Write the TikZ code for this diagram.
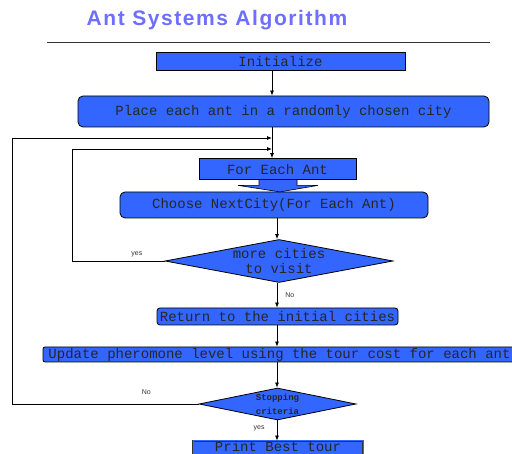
\documentclass[tikz,border=0pt]{standalone}
\usepackage{fontspec}
\setmainfont{Liberation Sans}
\setmonofont{Liberation Mono}
\usetikzlibrary{positioning, shapes.geometric, arrows.meta, calc}
\definecolor{flowblue}{RGB}{51,102,255}
\definecolor{titleblue}{RGB}{110,110,255}

\tikzset{
  stepbox/.style={draw=black, fill=flowblue, line width=0.8pt, inner sep=0pt,
    font=\ttfamily\fontsize{14}{15}\selectfont, text=black!85},
  roundbox/.style={stepbox, rounded corners=5pt},
  decision/.style={diamond, draw=black, fill=flowblue, line width=0.8pt, inner sep=0pt},
  flow/.style={-{Latex[length=5pt,width=4pt]}, line width=0.8pt},
  lbl/.style={font=\fontsize{7}{8}\selectfont, text=black!80, inner sep=1pt},
}

\begin{document}
\begin{tikzpicture}[x=1pt, y=-1pt]
    \useasboundingbox (0,0) rectangle (512,454);
    % title and rule
    \node[font=\addfontfeature{LetterSpace=7.5}\bfseries\fontsize{21}{23}\selectfont, text=titleblue] (title) at (217,20.5) {Ant Systems Algorithm};
    \draw[line width=0.6pt, black!80] (47,42) -- (490,42);

    % the steps, top to bottom
    \node[stepbox, minimum width=249pt, minimum height=18pt] (init) at (280.5,61) {Initialize};
    \node[roundbox, minimum width=411pt, minimum height=31pt] (place) at (283.5,111.5) {Place each ant in a randomly chosen city};
    \node[stepbox, minimum width=157pt, minimum height=21pt] (fea) at (277.5,169) {For Each Ant};
    \node[roundbox, minimum width=308pt, minimum height=26pt] (choose) at (274,205) {Choose NextCity(For Each Ant)};
    \node[decision, minimum width=228pt, minimum height=43pt,
      label={[align=center, font=\ttfamily\fontsize{14}{15}\selectfont, text=black!85]center:more cities\\to visit}] (more) at (279,261) {};
    \node[roundbox, rounded corners=3pt, minimum width=241pt, minimum height=17pt] (ret) at (277.5,316.5) {Return to the initial cities};
    \node[roundbox, rounded corners=2pt, minimum width=473pt, minimum height=15pt] (upd) at (279.5,354.5) {Update pheromone level using the tour cost for each ant};
    \node[decision, minimum width=157pt, minimum height=32pt,
      label={[align=center, font=\ttfamily\bfseries\fontsize{9}{14}\selectfont, text=black!85]center:Stopping\\criteria}] (stop) at (277.5,404) {};
    \node[stepbox, double=flowblue, double distance=1pt, draw=black!80, minimum width=170pt,
      text height=11pt, text depth=11pt] (print) at (278,452) {Print Best tour};

    % spines and joins
    \coordinate (topx) at (272,0);
    \coordinate (midx) at (277,0);
    \coordinate (innerx) at (72,0);
    \coordinate (outerx) at (12,0);
    \coordinate (join1) at (272,149);
    \coordinate (join2) at (272,138);

    % block arrow under For Each Ant
    \draw[fill=flowblue, line width=0.6pt] ($(fea.south)+(-18.5,0)$) -- ++(0,5.5) -- ++(-21,0)
      -- ($(fea.south)+(2.5,12)$) -- ($(fea.south)+(40.5,5.5)$) -- ++(-21,0) -- ++(0,-5.5);

    % connectors
    \draw[flow] (init.south -| topx) -- (place.north -| topx);
    \draw[flow] (place.south -| topx) -- (fea.north -| topx);
    \draw[flow] (choose.south -| midx) -- (more.north -| midx);
    \draw[flow] (more.south -| midx) -- node[lbl, right=7pt, pos=0.5] {No} (ret.north -| midx);
    \draw[flow] (ret.south -| midx) -- (upd.north -| midx);
    \draw[flow] (upd.south -| midx) -- (stop.north -| midx);
    \draw[flow] (stop.south -| midx) -- node[lbl, left=11pt, pos=0.4] {yes} (print.north -| midx);

    % loops back
    \draw[flow] (more.west) -- node[lbl, above=3pt, pos=0.3] {yes} (more.west -| innerx) |- (join1);
    \draw[flow] (stop.west) -- node[lbl, above=8pt, pos=0.28] {No} (stop.west -| outerx) |- (join2);
\end{tikzpicture}
\end{document}
